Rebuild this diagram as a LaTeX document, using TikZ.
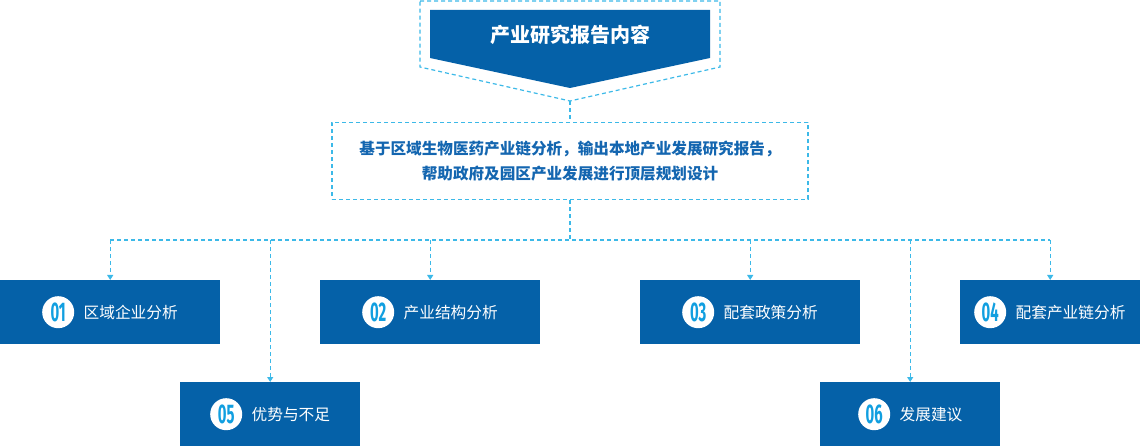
\documentclass[tikz,border=0pt]{standalone}
\usepackage{fontspec}
\setmainfont{Noto Sans CJK SC}
\newfontfamily\numfont[FakeStretch=0.55]{Fira Sans}
\usetikzlibrary{arrows.meta}
\definecolor{boxblue}{HTML}{0561A8}
\definecolor{dashblue}{HTML}{3CB9E8}
\definecolor{numblue}{HTML}{119FE0}
\definecolor{txtblue}{HTML}{1466B0}
\tikzset{
  dline/.style={draw=dashblue, line width=1.2pt, dash pattern=on 4pt off 3pt},
  arr/.style={dline, -{Triangle[width=6pt,length=5pt]}},
  itembox/.style={fill=boxblue, minimum width=220pt, minimum height=64pt, inner sep=0pt, anchor=north west},
  numc/.style={circle, fill=white, minimum size=32pt, inner sep=0pt, text=numblue, font=\numfont\bfseries\fontsize{27}{27}\selectfont},
  lbl/.style={text=white, font=\fontsize{15.7}{18}\selectfont, inner sep=0pt, anchor=west},
  desc/.style={dline, minimum width=476pt, minimum height=77pt, inner sep=0pt, align=center, text=txtblue, font=\bfseries\fontsize{15.6}{25}\selectfont},
  titletext/.style={text=white, font=\bfseries\fontsize{20}{22}\selectfont, inner sep=0pt},
}
\begin{document}
\begin{tikzpicture}[x=1pt, y=-1pt]
\useasboundingbox (0,0) rectangle (1140,446);
% top banner
\draw[dline] (420,1) -- (720,1) -- (720,67) -- (570,101) -- (420,67) -- cycle;
\fill[boxblue] (430,10) -- (710,10) -- (710,58) -- (570,88) -- (430,58) -- cycle;
\node[titletext] (title) at (570,35) {产业研究报告内容};
\coordinate (tip) at (570,101);
% description box
\node[desc] (desc) at (570,161) {基于区域生物医药产业链分析，输出本地产业发展研究报告，\\帮助政府及园区产业发展进行顶层规划设计};
% item boxes
\node[itembox] (b1) at (0,280) {};
\node[itembox] (b2) at (320,280) {};
\node[itembox] (b3) at (640,280) {};
\node[itembox, minimum width=180pt] (b4) at (960,280) {};
\node[itembox, minimum width=180pt] (b5) at (180,382) {};
\node[itembox, minimum width=180pt] (b6) at (820,382) {};
% numbers and labels
\node[numc] (n1) at ([xshift=-52pt]b1.center) {01};
\node[lbl] (l1) at ([xshift=9pt]n1.east) {区域企业分析};
\node[numc] (n2) at ([xshift=-52pt]b2.center) {02};
\node[lbl] (l2) at ([xshift=9pt]n2.east) {产业结构分析};
\node[numc] (n3) at ([xshift=-52pt]b3.center) {03};
\node[lbl] (l3) at ([xshift=9pt]n3.east) {配套政策分析};
\node[numc] (n4) at ([xshift=-60pt]b4.center) {04};
\node[lbl] (l4) at ([xshift=9pt]n4.east) {配套产业链分析};
\node[numc] (n5) at ([xshift=-44pt]b5.center) {05};
\node[lbl] (l5) at ([xshift=9pt]n5.east) {优势与不足};
\node[numc] (n6) at ([xshift=-36pt]b6.center) {06};
\node[lbl] (l6) at ([xshift=9pt]n6.east) {发展建议};
% connectors
\coordinate (hub) at (570,240);
\draw[dline] (tip) -- (desc.north);
\draw[dline] (desc.south) -- (hub);
\draw[dline] (b1.north |- hub) -- (b4.north |- hub);
\draw[arr] (b1.north |- hub) -- (b1.north);
\draw[arr] (b2.north |- hub) -- (b2.north);
\draw[arr] (b3.north |- hub) -- (b3.north);
\draw[arr] (b4.north |- hub) -- (b4.north);
\draw[arr] (b5.north |- hub) -- (b5.north);
\draw[arr] (b6.north |- hub) -- (b6.north);
\end{tikzpicture}
\end{document}
